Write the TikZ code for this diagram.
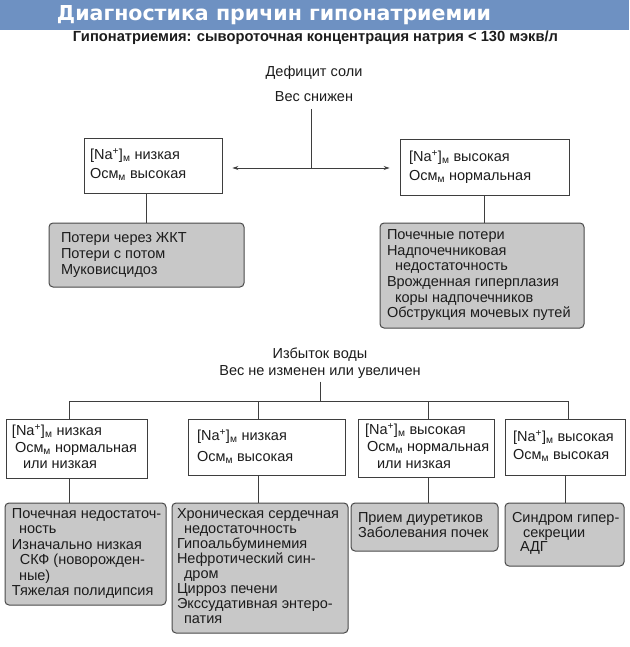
\documentclass[tikz,border=0pt]{standalone}
\usepackage{graphicx}
\usepackage{fontspec}
\setmainfont{Liberation Sans}
\newfontfamily\titlefont{DejaVu Sans}
\usetikzlibrary{arrows.meta}
\definecolor{banner}{RGB}{110,145,194}
\definecolor{ink}{RGB}{28,28,28}
\definecolor{graybox}{RGB}{200,200,200}
\newcommand{\tb}[3]{\makebox[#1][l]{\fontsize{14.5}{#2}\selectfont\begin{tabular}{@{}l@{}}#3\end{tabular}}}
\newcommand{\na}{[Na\textsuperscript{+}]\textsubscript{м}}
\newcommand{\osm}{Осм\textsubscript{м}}
\tikzset{
  wbox/.style={draw=ink!85, line width=0.9pt, fill=white, inner ysep=0pt, text=ink},
  gbox/.style={draw=ink!80, line width=1pt, fill=graybox, rounded corners=4pt, inner ysep=0pt, text=ink},
  lbl/.style={text=ink, inner sep=0pt, align=center},
  conn/.style={draw=ink!85, line width=0.8pt},
  tip/.style={{Stealth[length=6pt,width=4pt]}-{Stealth[length=6pt,width=4pt]}}
}
\begin{document}
\begin{tikzpicture}[x=1pt,y=-1pt]
\useasboundingbox (0,0) rectangle (629,647);
\fill[banner] (0,0) rectangle (629,30);
\node[text=white, inner sep=0pt, anchor=base] (title) at (274,21) {\resizebox{434pt}{15pt}{\titlefont\bfseries Диагностика причин гипонатриемии}};
\node[text=ink, inner sep=0pt, anchor=base] (sub) at (315.5,42) {\resizebox{485pt}{!}{\bfseries Гипонатриемия: сывороточная концентрация натрия < 130 мэкв/л}};

% salt deficit
\node[lbl, font=\fontsize{14.5}{25}\selectfont] (salt) at (314,84) {Дефицит соли\\Вес снижен};
\coordinate (j) at (311,168);
\node[wbox, minimum width=138pt, minimum height=55pt, inner xsep=6pt] (ltop) at (153,165.5) {\tb{126pt}{19pt}{\na{} низкая\\\osm{} высокая}};
\node[wbox, minimum width=169pt, minimum height=56pt, inner xsep=9pt] (rtop) at (484.5,167) {\tb{151pt}{19pt}{\na{} высокая\\\osm{} нормальная}};
\node[gbox, minimum width=195pt, minimum height=64pt, inner xsep=12pt] (lg) at (146.5,255) {\tb{171pt}{16pt}{Потери через ЖКТ\\Потери с потом\\Муковисцидоз}};
\node[gbox, minimum width=204pt, minimum height=105pt, inner xsep=7pt] (rg) at (482,275.5) {\tb{190pt}{15.6pt}{Почечные потери\\Надпочечниковая\\\hspace*{8pt}недостаточность\\Врожденная гиперплазия\\\hspace*{8pt}коры надпочечников\\Обструкция мочевых путей}};

\draw[conn, shorten <=7pt] (j |- salt.south) -- (j);
\draw[conn, tip, shorten <=10pt, shorten >=10pt] (ltop.east |- j) -- (rtop.west |- j);
\draw[conn] (ltop.south -| lg.north) -- (lg.north);
\draw[conn] (rtop.south) -- (rtop.south |- rg.north);

% water excess
\node[lbl, font=\fontsize{14.5}{17}\selectfont] (water) at (320,363) {Избыток воды\\Вес не изменен или увеличен};
\coordinate (wj) at (320,401);
\coordinate (h1) at (69,401);
\coordinate (h2) at (258,401);
\coordinate (h3) at (428,401);
\coordinate (h4) at (568,401);

\node[wbox, minimum width=141pt, minimum height=59pt, inner xsep=6pt] (b1) at (76.5,449) {\tb{129pt}{16.5pt}{\na{} низкая\\\hspace*{3pt}\osm{} нормальная\\\hspace*{11pt}или низкая}};
\node[wbox, minimum width=157pt, minimum height=56pt, inner xsep=9pt] (b2) at (266.5,447) {\tb{139pt}{21pt}{\na{} низкая\\\osm{} высокая}};
\node[wbox, minimum width=136pt, minimum height=58pt, inner xsep=7pt] (b3) at (426,448) {\tb{122pt}{17pt}{\na{} высокая\\\hspace*{2pt}\osm{} нормальная\\\hspace*{12pt}или низкая}};
\node[wbox, minimum width=120pt, minimum height=56pt, inner xsep=8pt] (b4) at (565,447) {\tb{104pt}{18pt}{\na{} высокая\\\osm{} высокая}};

\node[gbox, minimum width=161pt, minimum height=102pt, inner xsep=7pt] (g1) at (85.5,554) {\tb{147pt}{15.4pt}{Почечная недостаточ-\\\hspace*{7pt}ность\\Изначально низкая\\\hspace*{8pt}СКФ (новорожден-\\\hspace*{7pt}ные)\\Тяжелая полидипсия}};
\node[gbox, minimum width=176pt, minimum height=130pt, inner xsep=5pt] (g2) at (260,568) {\tb{166pt}{14.9pt}{Хроническая сердечная\\\hspace*{7pt}недостаточность\\Гипоальбуминемия\\Нефротический син-\\\hspace*{7pt}дром\\Цирроз печени\\Экссудативная энтеро-\\\hspace*{7pt}патия}};
\node[gbox, minimum width=147pt, minimum height=48pt, inner xsep=7pt] (g3) at (424.5,527) {\tb{133pt}{14.5pt}{Прием диуретиков\\Заболевания почек}};
\node[gbox, minimum width=119pt, minimum height=63pt, inner xsep=7pt] (g4) at (564.5,534.5) {\tb{105pt}{14.5pt}{Синдром гипер-\\\hspace*{11pt}секреции\\\hspace*{8pt}АДГ}};

\draw[conn, shorten <=3pt] (wj |- water.south) -- (wj);
\draw[conn] (h1) -- (h4);
\draw[conn] (h1) -- (h1 |- b1.north);
\draw[conn] (h2) -- (h2 |- b2.north);
\draw[conn] (h3) -- (h3 |- b3.north);
\draw[conn] (h4) -- (h4 |- b4.north);
\draw[conn] (b1.south -| h1) -- (h1 |- g1.north);
\draw[conn] (b2.south -| h2) -- (h2 |- g2.north);
\draw[conn] (b3.south -| h3) -- (h3 |- g3.north);
\draw[conn] (b4.south) -- (b4.south |- g4.north);
\end{tikzpicture}
\end{document}
